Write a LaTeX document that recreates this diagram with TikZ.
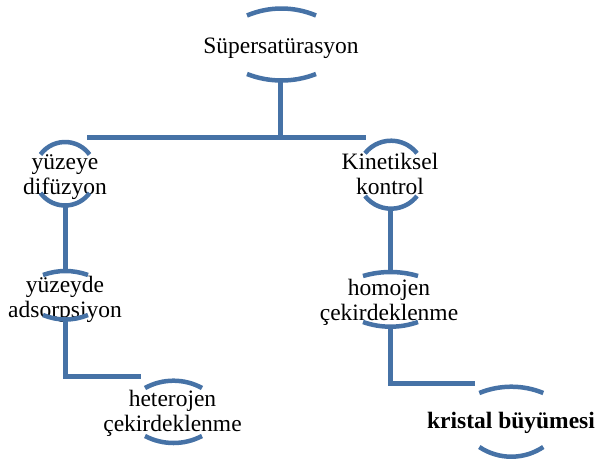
\documentclass[tikz,border=0pt]{standalone}
\usepackage{fontspec}
\setmainfont{Liberation Serif}
\definecolor{linkblue}{RGB}{70,114,166}
\tikzset{
  lbl/.style={font=\fontsize{23.5}{25}\selectfont, align=center, inner sep=0pt, text=black},
  arcline/.style={draw=linkblue, line width=4.5pt, line cap=butt},
  conn/.style={draw=linkblue, line width=5pt, line join=miter}
}
\newcommand{\toparc}[4]{%
  \pgfmathsetmacro\myR{((#4)*(#4)+(#3)*(#3))/(2*(#3))}%
  \pgfmathsetmacro\myT{asin((#4)/\myR)}%
  \draw[arcline] ({#1-#4},{-#2}) arc[start angle={90+\myT}, end angle={90-\myT}, radius=\myR pt];}
\newcommand{\botarc}[4]{%
  \pgfmathsetmacro\myR{((#4)*(#4)+(#3)*(#3))/(2*(#3))}%
  \pgfmathsetmacro\myT{asin((#4)/\myR)}%
  \draw[arcline] ({#1-#4},{-#2}) arc[start angle={270-\myT}, end angle={270+\myT}, radius=\myR pt];}
\begin{document}
\begin{tikzpicture}[x=1pt,y=1pt]
\useasboundingbox (0,0) rectangle (597,-464);
% text nodes
\node[lbl] (sup) at (281,-48) {\strut Süpersatürasyon};
\node[lbl] (dif) at (65,-177) {\strut yüzeye\\\strut difüzyon};
\node[lbl] (kin) at (390,-177) {\strut Kinetiksel\\\strut kontrol};
\node[lbl] (ads) at (65,-300) {\strut yüzeyde\\\strut adsorpsiyon};
\node[lbl] (hom) at (389,-303) {\strut homojen\\\strut çekirdeklenme};
\node[lbl] (het) at (172.5,-414) {\strut heterojen\\\strut çekirdeklenme};
\node[lbl] (kri) at (511,-423) {\strut\textbf{kristal büyümesi}};
% brackets (arcs) around the nodes
\toparc{281.5}{15.5}{7}{34.5}  \botarc{281.5}{74}{6.5}{34.5}
\toparc{65}{154.5}{12.5}{24.5} \botarc{65}{193}{12.5}{24.5}
\toparc{391}{153.3}{12.6}{26}  \botarc{391}{196}{12.7}{26}
\toparc{65.5}{275}{4}{22.5}    \botarc{65.5}{315}{4.5}{22.5}
\toparc{390.5}{276}{4}{27.5}   \botarc{390.5}{322}{4.7}{27.5}
\toparc{173.5}{388}{7.3}{28.5} \botarc{173.5}{436}{7}{28.5}
\toparc{511.3}{393}{6.3}{32}   \botarc{511.3}{447}{9.7}{32}
% connector end points
\coordinate (supB) at (280.5,-80.5);
\coordinate (barL) at (87,-137);
\coordinate (barR) at (366,-137);
\coordinate (difB) at (65,-205.5);
\coordinate (adsT) at (65,-271);
\coordinate (adsB) at (65,-319.5);
\coordinate (hetL) at (141,-376);
\coordinate (kinB) at (390,-208.7);
\coordinate (homT) at (390,-272);
\coordinate (homB) at (390,-326.7);
\coordinate (kriL) at (475,-383);
% connectors
\draw[conn] (supB) -- (supB |- barL);
\draw[conn] (barL) -- (barR);
\draw[conn] (difB) -- (adsT);
\draw[conn] (adsB) |- (hetL);
\draw[conn] (kinB) -- (homT);
\draw[conn] (homB) |- (kriL);
\end{tikzpicture}
\end{document}
